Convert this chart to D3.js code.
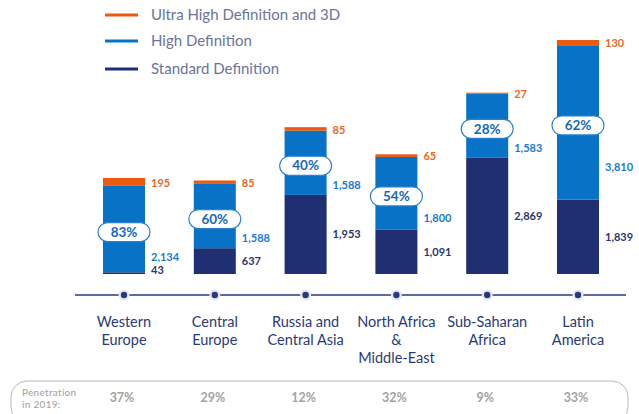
<!DOCTYPE html>
<html>
<head>
<meta charset="utf-8">
<script src="https://cdn.jsdelivr.net/npm/d3@7"></script>
<style>
  html, body { margin: 0; padding: 0; background: #fff; }
  svg { display: block; font-family: Lato, 'Open Sans', sans-serif; }
</style>
</head>
<body>
<svg id="chart" width="639" height="414"></svg>
<script>
// data
const regions = ['Western Europe', 'Central Europe', 'Russia and Central Asia', 'North Africa & Middle-East', 'Sub-Saharan Africa', 'Latin America']
const regionLines = [['Western', 'Europe'], ['Central', 'Europe'], ['Russia and', 'Central Asia'], ['North Africa', '&', 'Middle-East'], ['Sub-Saharan', 'Africa'], ['Latin', 'America']]
const standardDef = [43, 637, 1953, 1091, 2869, 1839]
const highDef = [2134, 1588, 1588, 1800, 1583, 3810]
const ultraHighDef = [195, 85, 85, 65, 27, 130]
const hdShare = ['83%', '60%', '40%', '54%', '28%', '62%']
const penetration2019 = ['37%', '29%', '12%', '32%', '9%', '33%']
const seriesNames = ['Ultra High Definition and 3D', 'High Definition', 'Standard Definition']

const colors = { sd: '#1f2f72', hd: '#0873c6', uhd: '#ea5b0f' }
const labelColors = { sd: '#2b3670', hd: '#1a7bd0', uhd: '#f0651c' }
const navy = '#2a3a78'

const svg = d3.select('#chart')

const rows = regions.map((r, i) => ({
    region: r, sd: standardDef[i], hd: highDef[i], uhd: ultraHighDef[i], i
}))
const keys = ['sd', 'hd', 'uhd']
const stacked = d3.stack().keys(keys)(rows)

const x = d3.scalePoint().domain(regions).range([124, 578])
const y = d3.scaleLinear()
    .domain([0, d3.max(rows, d => d.sd + d.hd + d.uhd)])
    .range([274, 40])
const barW = 42

// legend
const legendKeys = ['uhd', 'hd', 'sd']
const legendY = [15, 41, 69]
const legend = svg.append('g').attr('class', 'legend')
legendKeys.forEach((k, i) => {
    legend.append('line')
        .attr('x1', 105).attr('x2', 138)
        .attr('y1', legendY[i]).attr('y2', legendY[i])
        .attr('stroke', colors[k]).attr('stroke-width', 3)
    legend.append('text')
        .attr('x', 151).attr('y', legendY[i])
        .attr('dy', '0.35em')
        .attr('font-size', 15)
        .attr('fill', '#6b7499')
        .text(seriesNames[i])
})

// bars
const barG = svg.append('g').attr('class', 'bars')
stacked.forEach(layer => {
    barG.selectAll(null)
        .data(layer)
        .enter()
        .append('rect')
        .attr('x', d => x(d.data.region) - barW / 2)
        .attr('y', d => y(d[1]))
        .attr('width', barW)
        .attr('height', d => y(d[0]) - y(d[1]))
        .attr('fill', colors[layer.key])
})

// value labels + pills
const lblG = svg.append('g').attr('class', 'labels')
rows.forEach(d => {
    const cx = x(d.region)
    const lx = cx + barW / 2 + 6
    const sdTop = y(d.sd)
    const hdTop = y(d.sd + d.hd)
    const uhdTop = y(d.sd + d.hd + d.uhd)
    const pillY = (sdTop + hdTop) / 2 + 3
    const hdLabelY = ((pillY + 9.5) + sdTop) / 2
    const sdLabelY = Math.min((y(0) + sdTop) / 2, y(0) - 4)

    const vals = [
        { k: 'uhd', v: d.uhd, yy: (uhdTop + hdTop) / 2 + 1 },
        { k: 'hd', v: d.hd, yy: hdLabelY },
        { k: 'sd', v: d.sd, yy: sdLabelY }
    ]
    vals.forEach(o => {
        lblG.append('text')
            .attr('x', lx).attr('y', o.yy)
            .attr('dy', '0.35em')
            .attr('font-size', 11)
            .attr('font-weight', 700)
            .attr('fill', labelColors[o.k])
            .text(d3.format(',')(o.v))
    })

    lblG.append('rect')
        .attr('x', cx - 26).attr('y', pillY - 9.5)
        .attr('width', 52).attr('height', 19)
        .attr('rx', 9.5)
        .attr('fill', '#fff')
        .attr('stroke', '#2a7fcf')
        .attr('stroke-width', 1.2)
    lblG.append('text')
        .attr('x', cx).attr('y', pillY)
        .attr('dy', '0.35em')
        .attr('text-anchor', 'middle')
        .attr('font-size', 13.5)
        .attr('font-weight', 700)
        .attr('fill', '#1467bd')
        .text(hdShare[d.i])
})

// axis line with dots
const axisY = 295
const axisG = svg.append('g').attr('class', 'axis')
axisG.append('line')
    .attr('x1', 75).attr('x2', 626)
    .attr('y1', axisY).attr('y2', axisY)
    .attr('stroke', navy).attr('stroke-width', 1.5)
axisG.selectAll('circle.halo')
    .data(regions).enter()
    .append('circle')
    .attr('class', 'halo')
    .attr('cx', d => x(d)).attr('cy', axisY).attr('r', 5.5)
    .attr('fill', '#e3e8f3')
axisG.selectAll('circle.dot')
    .data(regions).enter()
    .append('circle')
    .attr('class', 'dot')
    .attr('cx', d => x(d)).attr('cy', axisY).attr('r', 3.2)
    .attr('fill', navy)

// category labels
const catG = svg.append('g').attr('class', 'categories')
regions.forEach((r, i) => {
    const t = catG.append('text')
        .attr('x', x(r)).attr('y', 322)
        .attr('text-anchor', 'middle')
        .attr('font-size', 14.5)
        .attr('fill', navy)
    regionLines[i].forEach((line, j) => {
        t.append('tspan')
            .attr('x', x(r))
            .attr('y', 322 + j * 18)
            .attr('dy', '0.35em')
            .text(line)
    })
})

// penetration row
const penG = svg.append('g').attr('class', 'penetration')
penG.append('rect')
    .attr('x', 11).attr('y', 381)
    .attr('width', 617).attr('height', 42)
    .attr('rx', 16)
    .attr('fill', 'none')
    .attr('stroke', '#b8b8b8')
    .attr('stroke-width', 1)
penG.append('text')
    .attr('x', 22).attr('y', 392).attr('dy', '0.35em')
    .attr('font-size', 10).attr('letter-spacing', 0.3).attr('fill', '#a0a0a0')
    .text('Penetration')
penG.append('text')
    .attr('x', 22).attr('y', 404.5).attr('dy', '0.35em')
    .attr('font-size', 10).attr('letter-spacing', 0.3).attr('fill', '#a0a0a0')
    .text('in 2019:')
penG.selectAll('text.val')
    .data(penetration2019).enter()
    .append('text')
    .attr('class', 'val')
    .attr('x', (d, i) => x(regions[i]) - 2)
    .attr('y', 398).attr('dy', '0.35em')
    .attr('text-anchor', 'middle')
    .attr('font-size', 12.5)
    .attr('font-weight', 700)
    .attr('fill', '#a3a3a3')
    .text(d => d)
</script>
</body>
</html>
